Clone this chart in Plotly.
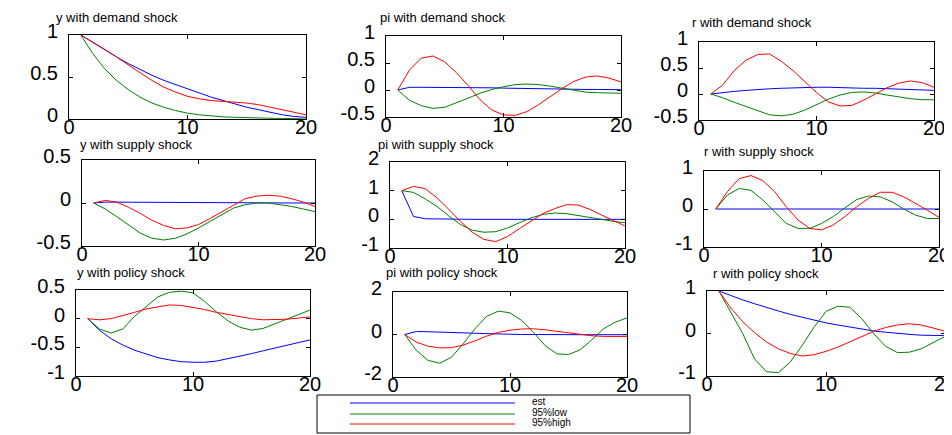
import plotly.graph_objects as go

# ---------------- data ----------------
periods = list(range(1, 21))

series_names = ["est", "95%low", "95%high"]
series_colors = ["#0000ff", "#008000", "#ff0000"]

titles = [
    "y with demand shock", "pi with demand shock", "r with demand shock",
    "y with supply shock", "pi with supply shock", "r with supply shock",
    "y with policy shock", "pi with policy shock", "r with policy shock",
]

# y with demand shock
y_demand_est = [1, 0.91, 0.82, 0.74, 0.66, 0.59, 0.52, 0.46, 0.41, 0.36, 0.31, 0.26, 0.22, 0.18, 0.14, 0.11, 0.08, 0.05, 0.03, 0.02]
y_demand_low = [1, 0.78, 0.6, 0.46, 0.35, 0.26, 0.19, 0.14, 0.1, 0.07, 0.05, 0.035, 0.025, 0.02, 0.015, 0.01, 0.01, 0.005, 0.005, 0.0]
y_demand_high = [1, 0.92, 0.83, 0.74, 0.64, 0.55, 0.46, 0.38, 0.32, 0.27, 0.24, 0.22, 0.21, 0.20, 0.19, 0.17, 0.14, 0.11, 0.08, 0.05]

# pi with demand shock
pi_demand_est = [0, 0.05, 0.05, 0.05, 0.05, 0.045, 0.045, 0.04, 0.04, 0.035, 0.03, 0.03, 0.025, 0.02, 0.02, 0.015, 0.01, 0.01, 0.005, 0.005]
pi_demand_low = [0, -0.19, -0.29, -0.34, -0.32, -0.24, -0.15, -0.06, 0.01, 0.06, 0.1, 0.11, 0.1, 0.07, 0.03, -0.01, -0.04, -0.05, -0.06, -0.06]
pi_demand_high = [0, 0.37, 0.59, 0.63, 0.52, 0.32, 0.08, -0.18, -0.37, -0.46, -0.47, -0.40, -0.27, -0.12, 0.03, 0.16, 0.24, 0.26, 0.22, 0.15]

# r with demand shock
r_demand_est = [0, 0.03, 0.05, 0.07, 0.09, 0.1, 0.11, 0.12, 0.12, 0.13, 0.13, 0.12, 0.12, 0.11, 0.11, 0.1, 0.09, 0.08, 0.07, 0.07]
r_demand_low = [0, -0.07, -0.16, -0.24, -0.33, -0.40, -0.42, -0.39, -0.31, -0.21, -0.1, -0.02, 0.03, 0.04, 0.02, -0.02, -0.06, -0.09, -0.11, -0.11]
r_demand_high = [0, 0.17, 0.45, 0.65, 0.76, 0.77, 0.63, 0.45, 0.24, 0.03, -0.15, -0.23, -0.22, -0.12, 0.0, 0.12, 0.21, 0.25, 0.22, 0.13]

# y with supply shock
y_supply_est = [0, 0.01, 0.01, 0.01, 0.01, 0.01, 0.008, 0.007, 0.006, 0.005, 0.004, 0.003, 0.003, 0.002, 0.002, 0.001, 0.001, 0.0, 0.0, 0.0]
y_supply_low = [0, -0.07, -0.16, -0.26, -0.35, -0.41, -0.43, -0.41, -0.36, -0.29, -0.21, -0.13, -0.06, -0.02, 0.0, 0.0, -0.02, -0.04, -0.07, -0.1]
y_supply_high = [0, 0.03, 0.01, -0.05, -0.12, -0.2, -0.26, -0.3, -0.29, -0.25, -0.18, -0.1, -0.02, 0.05, 0.08, 0.09, 0.08, 0.05, 0.01, -0.04]

# pi with supply shock
pi_supply_est = [1, 0.1, 0.02, 0.01, 0.0, 0.0, 0.0, 0.0, 0.0, 0.0, 0.0, 0.0, 0.0, 0.0, 0.0, 0.0, 0.0, 0.0, 0.0, 0.0]
pi_supply_low = [1, 0.94, 0.71, 0.45, 0.12, -0.18, -0.38, -0.45, -0.43, -0.3, -0.12, 0.05, 0.17, 0.22, 0.2, 0.14, 0.07, 0.0, -0.07, -0.12]
pi_supply_high = [1, 1.15, 1.07, 0.75, 0.35, -0.07, -0.45, -0.7, -0.78, -0.6, -0.33, -0.05, 0.2, 0.37, 0.51, 0.5, 0.35, 0.15, -0.05, -0.23]

# r with supply shock
r_supply_est = [0, 0.0, 0.0, 0.0, 0.0, 0.0, 0.0, 0.0, 0.0, 0.0, 0.0, 0.0, 0.0, 0.0, 0.0, 0.0, 0.0, 0.0, 0.0, 0.0]
r_supply_low = [0, 0.37, 0.54, 0.49, 0.24, -0.07, -0.38, -0.51, -0.51, -0.38, -0.2, 0.03, 0.25, 0.34, 0.32, 0.19, 0.0, -0.16, -0.25, -0.25]
r_supply_high = [0, 0.46, 0.8, 0.88, 0.75, 0.46, 0.06, -0.29, -0.51, -0.55, -0.42, -0.2, 0.06, 0.28, 0.44, 0.44, 0.32, 0.15, -0.03, -0.22]

# y with policy shock
y_policy_est = [0, -0.2, -0.35, -0.46, -0.55, -0.62, -0.68, -0.72, -0.75, -0.76, -0.76, -0.74, -0.7, -0.66, -0.61, -0.56, -0.51, -0.46, -0.41, -0.37]
y_policy_low = [0, -0.18, -0.25, -0.18, 0.04, 0.21, 0.38, 0.46, 0.48, 0.45, 0.3, 0.12, -0.04, -0.15, -0.2, -0.17, -0.09, 0.0, 0.08, 0.15]
y_policy_high = [0, -0.02, 0.0, 0.05, 0.11, 0.17, 0.21, 0.24, 0.23, 0.2, 0.16, 0.11, 0.07, 0.03, 0.0, -0.02, -0.02, -0.01, 0.01, 0.03]

# pi with policy shock
pi_policy_est = [0, 0.14, 0.13, 0.12, 0.1, 0.08, 0.06, 0.04, 0.02, 0.01, 0.0, 0.0, -0.01, -0.01, -0.01, -0.01, -0.01, -0.01, -0.01, -0.01]
pi_policy_low = [0, -0.75, -1.22, -1.35, -1.07, -0.44, 0.27, 0.85, 1.1, 1.02, 0.66, 0.11, -0.52, -0.91, -0.94, -0.72, -0.25, 0.27, 0.58, 0.78]
pi_policy_high = [0, -0.36, -0.55, -0.63, -0.62, -0.5, -0.3, -0.08, 0.1, 0.2, 0.26, 0.27, 0.22, 0.15, 0.07, 0.0, -0.06, -0.09, -0.1, -0.09]

# r with policy shock
r_policy_est = [1, 0.89, 0.79, 0.7, 0.61, 0.53, 0.45, 0.38, 0.31, 0.25, 0.2, 0.15, 0.1, 0.06, 0.03, 0.0, -0.02, -0.04, -0.05, -0.05]
r_policy_low = [1, 0.5, 0.0, -0.6, -0.9, -0.92, -0.67, -0.28, 0.15, 0.52, 0.64, 0.62, 0.35, 0.0, -0.3, -0.45, -0.44, -0.36, -0.22, -0.07]
r_policy_high = [1, 0.6, 0.28, 0.02, -0.2, -0.36, -0.47, -0.53, -0.5, -0.42, -0.32, -0.2, -0.07, 0.05, 0.14, 0.2, 0.23, 0.2, 0.13, 0.05]

# axis ticks
x_ticks = [0, 10, 20]
x_range = [0, 20]
y_ranges = [[0, 1], [-0.5, 1], [-0.5, 1],
            [-0.5, 0.5], [-1, 2], [-1, 1],
            [-1, 0.5], [-2, 2], [-1, 1]]
y_tickvals = [[0, 0.5, 1], [-0.5, 0, 0.5, 1], [-0.5, 0, 0.5, 1],
              [-0.5, 0, 0.5], [-1, 0, 1, 2], [-1, 0, 1],
              [-1, -0.5, 0, 0.5], [-2, 0, 2], [-1, 0, 1]]

series = [
    (y_demand_est, y_demand_low, y_demand_high),
    (pi_demand_est, pi_demand_low, pi_demand_high),
    (r_demand_est, r_demand_low, r_demand_high),
    (y_supply_est, y_supply_low, y_supply_high),
    (pi_supply_est, pi_supply_low, pi_supply_high),
    (r_supply_est, r_supply_low, r_supply_high),
    (y_policy_est, y_policy_low, y_policy_high),
    (pi_policy_est, pi_policy_low, pi_policy_high),
    (r_policy_est, r_policy_low, r_policy_high),
]

# ---------------- layout (pixels, in window coordinates) ----------------
W, H = 952, 435
PAGE_OFFSET = 8  # the page body margin places the figure 8 px in from the window corner
# axes boxes: (left, right, top, bottom) in window pixels
boxes = [(69, 306, 35, 119), (386, 621, 36, 117), (699, 934, 42, 120),
         (82, 315, 160, 246), (390, 625, 162, 248), (704, 939, 171, 247),
         (76, 310, 290, 376), (393, 627, 292, 377), (707, 945, 291, 376)]
# title anchor (left x, centre y) in window pixels
title_pos = [(54, 18), (378, 18), (690, 23),
             (78, 144), (376, 144), (702, 151),
             (75, 272), (384, 272), (711, 273)]


def fx(p):
    return (p - PAGE_OFFSET) / W


def fy(p):
    return 1 - (p - PAGE_OFFSET) / H


def fmt(v):
    return "%g" % v


tick_font = dict(family="Liberation Sans, Arial, sans-serif", size=20, color="black")
title_font = dict(family="Liberation Sans Narrow, Liberation Sans, Arial Narrow, sans-serif", size=13, color="black")

fig = go.Figure()
layout = dict(template="none", width=W, height=H, margin=dict(l=0, r=0, t=0, b=0, pad=0),
              paper_bgcolor="white", plot_bgcolor="white", showlegend=False)
annotations = []
shapes = []

for i, (est, low, high) in enumerate(series):
    k = i + 1
    xa = "x" if k == 1 else f"x{k}"
    ya = "y" if k == 1 else f"y{k}"
    for vals, name, color in zip((est, low, high), series_names, series_colors):
        fig.add_trace(go.Scatter(x=periods, y=vals, mode="lines", name=name,
                                 line=dict(color=color, width=1),
                                 xaxis=xa, yaxis=ya, showlegend=False,
                                 hoverinfo="skip"))
    l, r, t, b = boxes[i]
    common = dict(showgrid=False, zeroline=False, showline=True, linecolor="black",
                  linewidth=1, mirror="ticks", ticks="inside", ticklen=4,
                  tickcolor="black", tickwidth=1, tickfont=tick_font, automargin=False)
    layout["xaxis" if k == 1 else f"xaxis{k}"] = dict(
        domain=[fx(l), fx(r)], range=x_range, tickmode="array",
        tickvals=x_ticks, ticktext=[fmt(v) for v in x_ticks],
        anchor=ya, ticklabelstandoff=-10, **common)
    layout["yaxis" if k == 1 else f"yaxis{k}"] = dict(
        domain=[fy(b), fy(t)], range=y_ranges[i], tickmode="array",
        tickvals=y_tickvals[i], ticktext=[fmt(v) for v in y_tickvals[i]],
        anchor=xa, ticklabelstandoff=6, ticklabelshift=-4, **common)
    tx, ty = title_pos[i]
    annotations.append(dict(text=titles[i], x=fx(tx), y=fy(ty), xref="paper", yref="paper",
                            xanchor="left", yanchor="middle", showarrow=False,
                            font=title_font))

# legend box (boxed key below the grid)
shapes.append(dict(type="rect", xref="paper", yref="paper",
                   x0=fx(317), x1=fx(690), y0=fy(433), y1=fy(395),
                   line=dict(color="black", width=1), fillcolor="rgba(0,0,0,0)"))
leg_rows = [403, 414, 424]
for name, color, row in zip(series_names, series_colors, leg_rows):
    shapes.append(dict(type="line", xref="paper", yref="paper",
                       x0=fx(350), x1=fx(515), y0=fy(row), y1=fy(row),
                       line=dict(color=color, width=1)))
    annotations.append(dict(text=name, x=fx(530), y=fy(row - 2), xref="paper", yref="paper",
                            xanchor="left", yanchor="middle", showarrow=False,
                            font=dict(family="Liberation Sans Narrow, Liberation Sans, Arial, sans-serif",
                                      size=10, color="black")))

layout["annotations"] = annotations
layout["shapes"] = shapes
fig.update_layout(**layout)
fig.write_html("out.html")
